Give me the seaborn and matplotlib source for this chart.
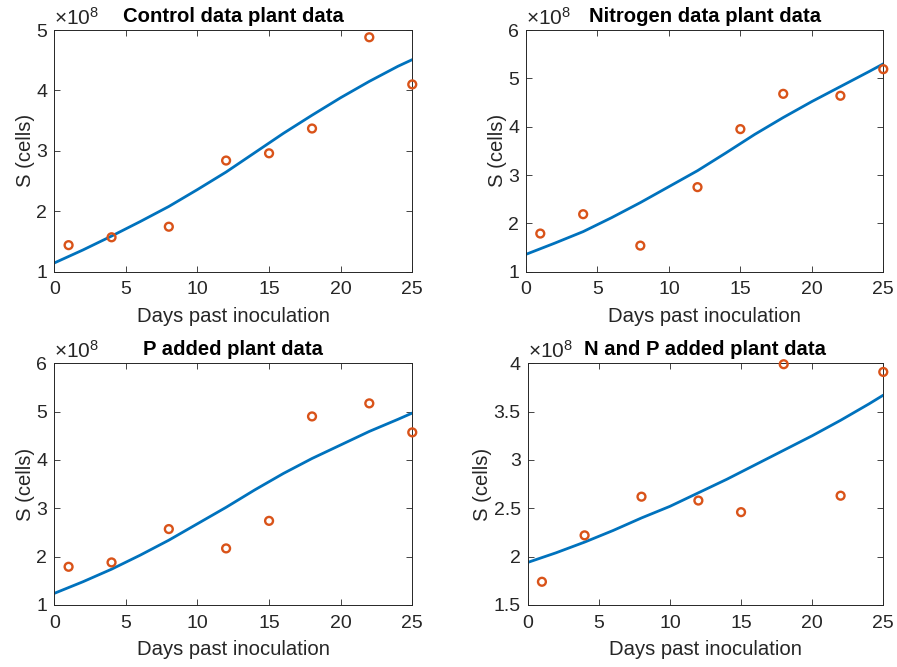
import numpy as np
import matplotlib
matplotlib.use("Agg")
import matplotlib.pyplot as plt
import seaborn as sns
from matplotlib.ticker import FuncFormatter

# measured days and S (cells), in units of 1e8
days = [1, 4, 8, 12, 15, 18, 22, 25]
control_obs = [1.44, 1.57, 1.745, 2.84, 2.96, 3.37, 4.88, 4.10]
nitrogen_obs = [1.79, 2.19, 1.54, 2.75, 3.95, 4.68, 4.64, 5.19]
p_obs = [1.79, 1.88, 2.57, 2.17, 2.74, 4.90, 5.17, 4.57]
np_obs = [1.74, 2.22, 2.62, 2.58, 2.46, 3.99, 2.63, 3.91]

# model curves
t_fit = [0, 2, 4, 6, 8, 10, 12, 14, 16, 18, 20, 22, 24, 25]
control_fit = [1.145, 1.36, 1.59, 1.83, 2.08, 2.36, 2.65, 2.97, 3.29, 3.59, 3.88, 4.15, 4.40, 4.51]
nitrogen_fit = [1.36, 1.59, 1.83, 2.12, 2.43, 2.76, 3.09, 3.46, 3.84, 4.19, 4.52, 4.83, 5.14, 5.30]
p_fit = [1.24, 1.48, 1.74, 2.03, 2.34, 2.68, 3.02, 3.38, 3.72, 4.03, 4.31, 4.59, 4.84, 4.97]
np_fit = [1.94, 2.04, 2.15, 2.27, 2.40, 2.52, 2.66, 2.80, 2.95, 3.10, 3.25, 3.41, 3.58, 3.67]

titles = ["Control data plant data", "Nitrogen data plant data",
          "P added plant data", "N and P added plant data"]
obs_sets = [control_obs, nitrogen_obs, p_obs, np_obs]
fit_sets = [control_fit, nitrogen_fit, p_fit, np_fit]
ylims = [(1, 5), (1, 6), (1, 6), (1.5, 4)]
yticks = [[1, 2, 3, 4, 5], [1, 2, 3, 4, 5, 6], [1, 2, 3, 4, 5, 6],
          [1.5, 2, 2.5, 3, 3.5, 4]]

sns.set_theme(style="white")
plt.rcParams['font.family'] = ['Liberation Sans', 'DejaVu Sans']
plt.rcParams['mathtext.fontset'] = 'custom'
plt.rcParams['mathtext.rm'] = 'Liberation Sans'
plt.rcParams['mathtext.it'] = 'Liberation Sans'

gray = '#262626'
blue = '#0072BD'
orange = '#D95319'

fig = plt.figure(figsize=(8.97, 6.67), dpi=100)
positions = [
    [0.0605, 0.5926, 0.3991, 0.3624],
    [0.5864, 0.5926, 0.3983, 0.3624],
    [0.0605, 0.0930, 0.3991, 0.3624],
    [0.5883, 0.0930, 0.3964, 0.3624],
]

for i in range(4):
    ax = fig.add_axes(positions[i])
    sns.lineplot(x=t_fit, y=fit_sets[i], ax=ax, color=blue, linewidth=2.0,
                 solid_joinstyle='round')
    sns.scatterplot(x=days, y=obs_sets[i], ax=ax, marker='o', s=32,
                    facecolors='none', edgecolor=orange, linewidth=1.7,
                    zorder=3, clip_on=False)
    ax.set_xlim(0, 25)
    ax.set_ylim(*ylims[i])
    ax.set_xticks([0, 5, 10, 15, 20, 25])
    ax.set_yticks(yticks[i])
    ax.yaxis.set_major_formatter(FuncFormatter(lambda v, p: '%g' % v))
    ax.tick_params(direction='in', length=4, width=0.6, colors=gray,
                   labelsize=14, top=True, right=True, bottom=True, left=True)
    ax.tick_params(axis='x', pad=7)
    ax.tick_params(axis='y', pad=5)
    for s in ax.spines.values():
        s.set_color(gray)
        s.set_linewidth(0.7)
    ax.set_xlabel('Days past inoculation', fontsize=14.6, color=gray, labelpad=6)
    ax.set_ylabel('S (cells)', fontsize=14.6, color=gray, labelpad=1)
    ax.set_title(titles[i], fontsize=14.6, fontweight='bold', color='black', pad=6)
    ax.text(0.0, 1.006, r'$\times10^{8}$', transform=ax.transAxes,
            fontsize=15, color=gray, ha='left', va='bottom')

fig.savefig('out.png', dpi=100)
